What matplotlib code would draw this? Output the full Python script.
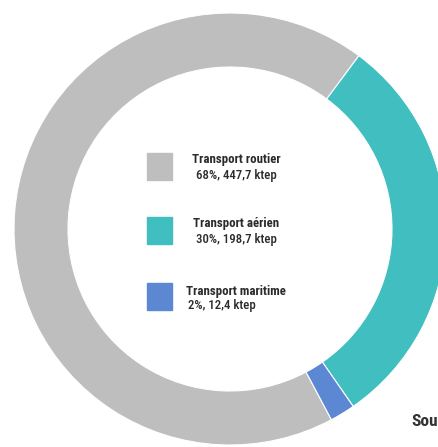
import matplotlib.pyplot as plt
from matplotlib.patches import Rectangle
from matplotlib import font_manager

# consumption by transport mode (ktep)
modes = ['Transport routier', 'Transport aérien', 'Transport maritime']
ktep = [447.7, 198.7, 12.4]
shares = ['68%', '30%', '2%']
ktep_labels = ['447,7', '198,7', '12,4']
colors = ['#bebebe', '#41bec0', '#5b87d3']

names = {f.name for f in font_manager.fontManager.ttflist}
fams = [n for n in ['Liberation Sans Narrow', 'DejaVu Sans Condensed', 'Roboto Condensed']
        if n in names]
plt.rcParams['font.family'] = fams + ['DejaVu Sans']
fsize = 9.3 if fams else 7.5

fig = plt.figure(figsize=(4.38, 4.47), dpi=100)
ax = fig.add_axes([0, 0, 1, 1])

# donut, cut off on the right like the source crop
ax.pie(ktep, colors=colors, center=(230, 218), radius=216,
       startangle=-62, counterclock=False,
       wedgeprops=dict(width=54, edgecolor='white', linewidth=0.8),
       frame=True)
ax.set_xlim(0, 438)
ax.set_ylim(0, 447)
ax.set_aspect('equal')
ax.axis('off')

# legend in the hole
sq_top = [447 - 153, 447 - 217, 447 - 283]
for i, m in enumerate(modes):
    ax.add_patch(Rectangle((147, sq_top[i] - 27), 25, 27, color=colors[i]))
    line2 = f'{shares[i]}, {ktep_labels[i]} ktep'
    y1 = sq_top[i] - 7
    y2 = sq_top[i] - 23
    if i < 2:
        ax.text(236, y1, m, ha='center', va='center', fontsize=fsize,
                fontweight='bold', color='#2b2b2b')
        ax.text(236, y2, line2, ha='center', va='center', fontsize=fsize,
                fontweight='medium', color='#2b2b2b')
    else:
        ax.text(186, y1 - 1, m, ha='left', va='center', fontsize=fsize,
                fontweight='bold', color='#2b2b2b')
        ax.text(188, y2 + 1, line2, ha='left', va='center', fontsize=fsize,
                fontweight='medium', color='#2b2b2b')

ax.text(438, 447 - 422, 'Sou', ha='right', va='center', fontsize=12.5,
        fontweight='bold', color='#333333')

fig.savefig('out.png', dpi=100)
